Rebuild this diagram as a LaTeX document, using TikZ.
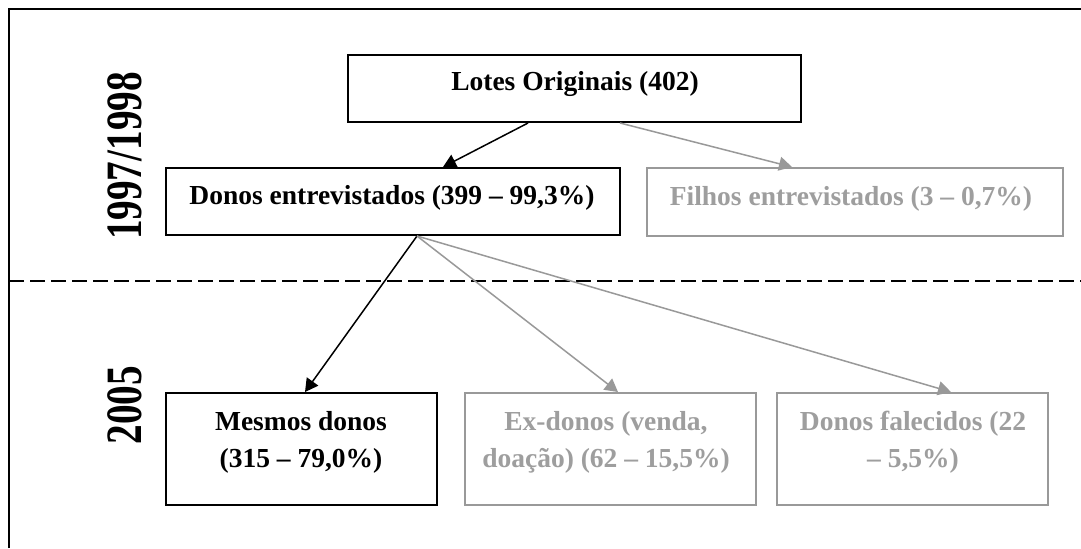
\documentclass[tikz,border=0pt]{standalone}
\usepackage{fontspec}
\usepackage{graphicx}
\setmainfont{Liberation Serif}
\usetikzlibrary{arrows.meta}
\definecolor{linegr}{RGB}{153,153,153}
\definecolor{textgr}{RGB}{158,158,158}
\begin{document}
\begin{tikzpicture}[x=0.5pt,y=-0.5pt,
  boxk/.style={draw=black,line width=1pt,inner sep=0pt},
  boxg/.style={draw=linegr,line width=1pt,inner sep=0pt},
  lbl/.style={font=\fontsize{13.75}{18.5}\selectfont\bfseries,inner sep=0pt,align=center},
  lblg/.style={lbl,text=textgr},
  arrk/.style={draw=black,line width=0.75pt,-{Triangle[length=6.5pt,width=7pt]}},
  arrg/.style={draw=linegr,line width=0.75pt,-{Triangle[length=6.5pt,width=7pt]}},
  yearlbl/.style={font=\fontsize{19.6}{20}\selectfont\bfseries,rotate=90,inner sep=0pt}]
\useasboundingbox (0,0) rectangle (1081,548);
\fill[white] (0,0) rectangle (1081,548);
% frame and separator
\draw[line width=1pt] (9,548) -- (9,9) -- (1081,9);
\draw[line width=1pt,dash pattern=on 7.5pt off 3pt] (9,281) -- (1081,281);
% year labels
\node[yearlbl] (y1) at (125,156) {\scalebox{1}[1.3]{1997/1998}};
\node[yearlbl] (y2) at (125,405) {\scalebox{1}[1.3]{2005}};
% boxes
\node[boxk,minimum width=226.5pt,minimum height=33.5pt] (lotes) at (574.5,88.5) {};
\node[boxk,minimum width=227pt,minimum height=33.5pt] (donos) at (393,201.5) {};
\node[boxg,minimum width=208pt,minimum height=34pt] (filhos) at (855,202) {};
\node[boxk,minimum width=135.5pt,minimum height=56pt] (mesmos) at (301.5,449) {};
\node[boxg,minimum width=145.5pt,minimum height=56pt] (exdonos) at (610.5,449) {};
\node[boxg,minimum width=135.5pt,minimum height=56pt] (falec) at (912.5,449) {};
% texts
\node[lbl,anchor=base] (lotes-t) at (575,90) {Lotes Originais (402)};
\node[lbl,anchor=base] (donos-t) at (392,204) {Donos entrevistados (399 – 99,3\%)};
\node[lblg,anchor=base] (filhos-t) at (851,205) {Filhos entrevistados (3 – 0,7\%)};
\node[lbl] (mesmos-t) at (301,442) {Mesmos donos\\(315 – 79,0\%)};
\node[lblg] (exdonos-t) at (606,442) {Ex-donos (venda,\\doação) (62 – 15,5\%)};
\node[lblg] (falec-t) at (913,442) {Donos falecidos (22\\– 5,5\%)};
% connectors
\draw[arrk] ([xshift=-23.25pt]lotes.south) -- ([xshift=25pt]donos.north);
\draw[arrg] ([xshift=22.75pt]lotes.south) -- ([xshift=-31.5pt]filhos.north);
\draw[arrk] ([xshift=12pt]donos.south) -- ([xshift=1.75pt]mesmos.north);
\draw[arrg] ([xshift=12pt]donos.south) -- ([xshift=3.75pt]exdonos.north);
\draw[arrg] ([xshift=12pt]donos.south) -- ([xshift=19.25pt]falec.north);
\end{tikzpicture}
\end{document}
